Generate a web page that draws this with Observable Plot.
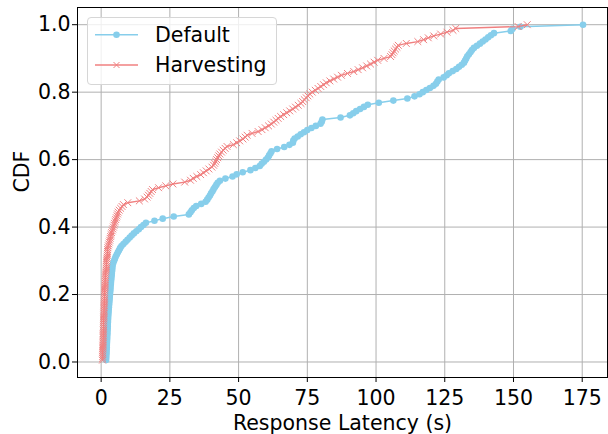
<!DOCTYPE html>
<html><head><meta charset="utf-8">
<script src="https://cdn.jsdelivr.net/npm/d3@7"></script>
<script src="https://cdn.jsdelivr.net/npm/@observablehq/plot@0.6"></script>
<style>
body{margin:0;background:#fff;}
#wrap{position:relative;width:608px;height:434px;font-family:"DejaVu Sans",sans-serif;}
#legend{position:absolute;left:87px;top:17px;width:190px;height:68px;box-sizing:border-box;border:1px solid #d6d6d6;border-radius:4px;background:rgba(255,255,255,0.8);}
#legend svg{position:absolute;left:-1px;top:-1px;overflow:visible;}
</style></head><body><div id="wrap"></div>
<script>
const seriesNames = ["Default", "Harvesting"];
const seriesColors = ["#87CEEB", "#F08080"];
const xTicks = [0, 25, 50, 75, 100, 125, 150, 175];
const yTicks = [0, 0.2, 0.4, 0.6, 0.8, 1.0];
const xLabel = "Response Latency (s)";
const yLabel = "CDF";

// Sorted latency samples (s)
const defaultLatency = [
  1.80, 1.83, 1.87, 1.92, 1.95, 1.98, 2.03, 2.06, 2.09, 2.14, 2.17, 2.20, 2.25, 2.28, 2.31, 2.36, 2.39, 2.42, 2.47, 2.50, 2.53, 2.58,
  2.62, 2.69, 2.74, 2.80, 2.88, 2.93, 3.01, 3.05, 3.12, 3.20, 3.25, 3.33, 3.37, 3.44, 3.52, 3.57,
  3.65, 3.71, 3.80, 3.86, 3.95, 4.01, 4.10, 4.16,
  4.4, 4.7, 5.0, 5.3,
  5.7, 6.1, 6.5, 6.9,
  7.4, 8.1, 8.9, 9.6, 10.4,
  11.1, 11.9, 12.8, 13.7, 14.5, 15.4,
  16.3, 19.4, 22.4, 26.4, 31.9, 32.5,
  33.0, 33.7, 34.6, 36.4, 38.0, 38.6, 39.1, 39.6, 40.0, 40.5, 40.9, 41.4, 41.9, 42.4, 43.2,
  45.2, 47.8, 49.3, 51.5, 54.3, 56.1, 57.7, 58.4, 59.2, 60.0, 60.7, 61.1, 61.6, 62.0,
  64.0, 66.6, 68.5, 69.75, 69.9, 70.4, 71.5, 72.6, 73.8, 75.0, 76.5, 78.1, 79.8, 80.25, 80.5,
  87.1, 90.5, 91.7, 92.8, 94.2, 95.6, 97.0, 101.0, 106.3, 111.4,
  114.0, 115.8, 117.0, 118.3, 119.6, 120.9, 121.8, 122.3, 122.8, 124.6, 125.7, 126.5, 127.9, 129.2, 130.2, 131.2, 132.0, 132.4, 132.8, 133.2,
  133.8, 134.4, 134.9, 135.6, 136.7, 137.8, 138.8, 139.8, 140.8, 141.8,
  142.9, 149.0, 149.6, 152.5, 175.3
];
const harvestingLatency = [
  0.50, 0.52, 0.54, 0.57, 0.58, 0.60, 0.63, 0.64, 0.66, 0.69, 0.70, 0.72, 0.75, 0.76, 0.78, 0.81, 0.82, 0.85, 0.87, 0.89, 0.91, 0.94, 0.95, 0.97, 0.99,
  1.01, 1.04, 1.06, 1.09, 1.12, 1.14, 1.16, 1.19, 1.22, 1.24, 1.27, 1.30, 1.32, 1.34, 1.37, 1.40, 1.42, 1.44,
  1.49, 1.54, 1.60, 1.65, 1.71, 1.76, 1.82, 1.87, 1.92, 1.98, 2.03, 2.09, 2.14, 2.20, 2.25, 2.31, 2.36,
  2.46, 2.62, 2.78, 2.95, 3.11, 3.27, 3.44, 3.60,
  3.80, 4.02, 4.23, 4.45, 4.66, 4.87, 5.09,
  5.31, 5.53, 5.76, 5.98, 6.20,
  6.58, 7.09, 7.60, 8.11,
  9.7, 13.9, 15.8, 16.7, 17.2, 17.7, 18.2, 18.7, 20.9, 23.5, 26.1, 30.4,
  32.5, 33.5, 34.8, 36.2, 37.2, 38.2, 39.2, 40.3,
  40.9, 41.3, 41.7, 42.0, 42.4, 42.8, 43.2, 43.8, 44.4, 45.1, 45.8, 48.1,
  49.3, 50.4, 51.6, 52.4, 53.1, 54.9, 57.1, 58.5, 59.7, 60.9,
  61.9, 62.8, 63.6, 64.4, 65.3, 66.4, 67.5, 68.6, 69.7, 70.7, 71.7, 72.7,
  73.3, 73.9, 74.6, 75.2, 75.9, 76.8, 77.9, 78.9, 79.9, 80.9, 81.9,
  83.2, 84.6, 86.0, 87.4, 89.6, 91.9, 93.5, 95.1, 96.6, 98.0, 99.3, 100.6,
  102.9, 105.3, 105.8, 106.2, 106.6, 107.1, 107.6, 108.1, 111.0, 115.2,
  117.3, 119.0, 121.0, 123.5, 125.8, 128.0, 129.0, 151.7, 155.0
];

// Empirical CDF of each sample list
function ecdf(values, name) {
  const n = values.length;
  return values.map((v, i) => ({series: name, latency: v, cdf: (i + 1) / n}));
}
const defRows = ecdf(defaultLatency, seriesNames[0]);
const harRows = ecdf(harvestingLatency, seriesNames[1]);

const FS = 20.5;
const chart = Plot.plot({
  width: 608, height: 434,
  marginLeft: 77, marginRight: 1, marginTop: 7, marginBottom: 57,
  style: {fontFamily: "'DejaVu Sans', sans-serif", fontSize: FS + "px", color: "black", background: "white"},
  x: {domain: [-8.6, 184.2]},
  y: {domain: [-0.046, 1.051]},
  marks: [
    Plot.gridX(xTicks, {stroke: "#b0b0b0", strokeOpacity: 1, strokeWidth: 1}),
    Plot.gridY(yTicks, {stroke: "#b0b0b0", strokeOpacity: 1, strokeWidth: 1}),
    Plot.line(defRows, {x: "latency", y: "cdf", stroke: seriesColors[0], strokeWidth: 1.5}),
    Plot.dot(defRows, {x: "latency", y: "cdf", r: 3.3, fill: seriesColors[0], stroke: "none"}),
    Plot.line(harRows, {x: "latency", y: "cdf", stroke: seriesColors[1], strokeWidth: 1.4}),
    Plot.dot(harRows, {x: "latency", y: "cdf", symbol: "times", r: 3.2, stroke: seriesColors[1], strokeWidth: 1}),
    Plot.frame({stroke: "black", strokeWidth: 1}),
    Plot.axisX(xTicks, {tickSize: 5, tickPadding: 8, label: null, fontSize: FS, stroke: "black"}),
    Plot.axisY(yTicks, {tickSize: 5, tickPadding: 2, label: null, tickFormat: d3.format(".1f"), fontSize: FS, stroke: "black"}),
    Plot.text([xLabel], {frameAnchor: "bottom", dy: 46, lineAnchor: "middle", fontSize: FS, fill: "black"}),
    Plot.text([yLabel], {frameAnchor: "left", dx: -55, rotate: -90, lineAnchor: "middle", fontSize: FS, fill: "black"})
  ]
});

const wrap = document.getElementById("wrap");
wrap.appendChild(chart);

// Legend (matplotlib-style box, upper left)
const leg = document.createElement("div");
leg.id = "legend";
wrap.appendChild(leg);
const ls = d3.select(leg).append("svg").attr("width", 190).attr("height", 68);
const rowsY = [17.7, 48];
seriesNames.forEach((name, k) => {
  const y = rowsY[k];
  ls.append("line").attr("x1", 8).attr("x2", 51).attr("y1", y).attr("y2", y)
    .attr("stroke", seriesColors[k]).attr("stroke-width", k === 0 ? 1.5 : 1.4);
  if (k === 0) {
    ls.append("circle").attr("cx", 29.5).attr("cy", y).attr("r", 3.3).attr("fill", seriesColors[k]);
  } else {
    ls.append("path").attr("d", `M${29.5-3},${y-3}L${29.5+3},${y+3}M${29.5-3},${y+3}L${29.5+3},${y-3}`)
      .attr("stroke", seriesColors[k]).attr("stroke-width", 1).attr("fill", "none");
  }
  ls.append("text").attr("x", 68).attr("y", y + 7.2).attr("font-size", FS + "px")
    .attr("font-family", "'DejaVu Sans', sans-serif").attr("fill", "black").text(name);
});
</script></body></html>
